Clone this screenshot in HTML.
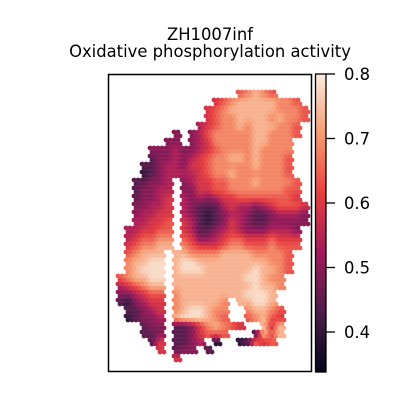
<!DOCTYPE html>
<html><head><meta charset="utf-8"><style>
body{margin:0;background:#fff}
svg{display:block;font-family:"DejaVu Sans","Liberation Sans",sans-serif}
</style></head><body>
<svg id="chart" width="400" height="400" viewBox="0 0 400 400">
<defs>
<linearGradient id="rocket" x1="0" y1="1" x2="0" y2="0">
<stop offset="0" stop-color="#03051A"/><stop offset="0.2" stop-color="#4C1D4B"/>
<stop offset="0.4" stop-color="#A11A5B"/><stop offset="0.6" stop-color="#E83F3F"/>
<stop offset="0.8" stop-color="#F69C73"/><stop offset="1" stop-color="#FAEBDD"/>
</linearGradient>
</defs>
<text x="210" y="40" text-anchor="middle" font-size="16.4">ZH1007inf</text>
<text x="210" y="57" text-anchor="middle" font-size="16.4">Oxidative phosphorylation activity</text>
<g id="spots"></g>
<rect x="108.5" y="74.5" width="203" height="297" fill="none" stroke="#000" stroke-width="1.5"/>
<rect x="315.5" y="74" width="10.5" height="298" fill="url(#rocket)" stroke="#000" stroke-width="1.3"/>
<g id="cbticks"></g>
</svg>
<script>
const valueRows = [
"..........................",
"..........................",
"................67876.....",
".............56788888776..",
"............5678888887776.",
"............5677888878776.",
"...........4567787888776..",
"........3.34677777887776..",
".......33.3457777788777...",
".....333433456777787777...",
".....233434567788787776...",
"....2234435567777787776...",
"....1234444567787777776...",
"...22334.345566777877776..",
"...23344.335566777777766..",
"...23345.434345566666665..",
"...33445.4322245443456665.",
"...34455.4321234432234443.",
"...44556.5421235432233333.",
"..445566.542234543334443..",
"..456677.653345665556555..",
"..567788.765556776667666..",
"..67888.887777888877776...",
"..78899.899888888888776...",
"..78999.899988888898876...",
".678899.88888888899877....",
".456788.88888888889887....",
".334566.7888888889998.....",
".213455.7888887.88998.....",
"..22345.7899877..78876....",
"..12334.8999876..67865....",
"....233.223578765..858....",
"....223.2235666...2868....",
".....25.2234.1..12656.....",
"......5.233.2.............",
"........5.................",
".........................."
];
const valueBase = 0.35, valueStep = 0.048;
const cbTicks = [0.4, 0.5, 0.6, 0.7, 0.8];
const vMin = 0.338, vMax = 0.8;
const stops = [[0,[3,5,26]],[0.2,[76,29,75]],[0.4,[161,26,91]],[0.6,[232,63,63]],[0.8,[246,156,115]],[1,[250,235,221]]];
function color(v){
  let t=Math.max(0,Math.min(1,(v-vMin)/(vMax-vMin)));
  for(let i=1;i<stops.length;i++){
    if(t<=stops[i][0]){const a=stops[i-1],b=stops[i];const f=(t-a[0])/(b[0]-a[0]);
      const c=a[1].map((x,k)=>Math.round(x+(b[1][k]-x)*f));return `rgb(${c})`;}
  }
  return 'rgb(250,235,221)';
}
const cellX = c => 108 + c*8, cellY = r => 74 + r*8;
const cbY = v => 372 - (v - vMin)/(vMax - vMin)*298;
function cellVal(r,c){
  if(r<0||r>=valueRows.length||c<0||c>=valueRows[r].length) return null;
  const ch=valueRows[r][c]; if(ch<'0'||ch>'9') return null;
  return valueBase+valueStep*(+ch);
}
function smooth(x,y){
  const fx=(x-108)/8-0.5, fy=(y-74)/8-0.5;
  const c0=Math.floor(fx), r0=Math.floor(fy);
  let s=0,w=0;
  for(let dr=0;dr<2;dr++)for(let dc=0;dc<2;dc++){
    const v=cellVal(r0+dr,c0+dc); if(v===null) continue;
    const wt=(dc?fx-c0:1-(fx-c0))*(dr?fy-r0:1-(fy-r0))+1e-3;
    s+=v*wt; w+=wt;
  }
  return s/w;
}
const NS='http://www.w3.org/2000/svg';
const g=document.getElementById('spots');
valueRows.forEach((row,r)=>{
  for(let c=0;c<row.length;c++){
    if(cellVal(r,c)===null) continue;
    for(let j=0;j<2;j++){ for(let i=0;i<2;i++){
      const cx=cellX(c)+2+i*4+((r*2+j)%2?2:0), cy=cellY(r)+2+j*4;
      const el=document.createElementNS(NS,'circle');
      
      
      el.setAttribute('cx',cx);
      el.setAttribute('cy',cy);
      el.setAttribute('r',2.4);
      el.setAttribute('fill',color(smooth(cx,cy)));
      g.appendChild(el);
    }}
  }
});
const tg=document.getElementById('cbticks');
cbTicks.forEach(v=>{
  const y=cbY(v);
  const l=document.createElementNS(NS,'line');
  
  
  l.setAttribute('x1',326);l.setAttribute('x2',335);l.setAttribute('y1',y);l.setAttribute('y2',y);
  l.setAttribute('stroke','#000');l.setAttribute('stroke-width',1.3);
  tg.appendChild(l);
  const t=document.createElementNS(NS,'text');
  
  
  t.setAttribute('x',344);t.setAttribute('y',y+6);t.setAttribute('font-size',16.4);
  t.textContent=v.toFixed(1);
  tg.appendChild(t);
});
</script>
</body></html>
